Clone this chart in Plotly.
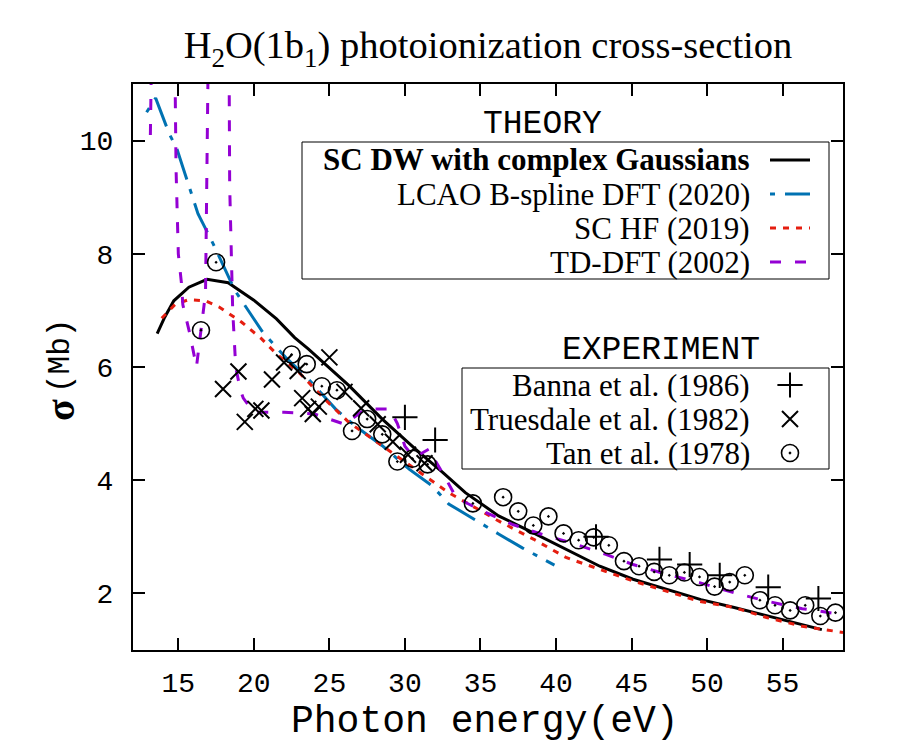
"""H2O(1b1) photoionization cross-section: theory curves vs. experiment.

Rebuilt in Plotly from a gnuplot figure; the legend boxes are drawn by hand
(text right-aligned, sample on the right) the way gnuplot does it.
"""
import plotly.graph_objects as go

# ---------------------------------------------------------------------------
# Data (photon energy in eV, cross-section in Mb)
# ---------------------------------------------------------------------------
scdw_e = [13.6, 14.1, 14.7, 15.7, 16.9, 18.3, 20.0, 21.5, 22.7, 23.6, 26.3, 28.5,
          30.7, 32.5, 34.0, 36.2, 38.5, 40.7, 42.9, 45.1, 47.3, 49.6, 51.8, 54.0, 57.6]
scdw_s = [6.59, 6.88, 7.17, 7.41, 7.55, 7.49, 7.18, 6.85, 6.52, 6.32, 5.67, 5.08,
          4.55, 4.14, 3.78, 3.37, 3.07, 2.78, 2.48, 2.25, 2.07, 1.89, 1.75, 1.60, 1.36]

lcao_e = [12.9, 13.5, 14.4, 14.9, 15.3, 16.3, 17.3, 18.75, 20.6, 22.1, 23.6, 25.4,
          26.7, 28.5, 30.3, 31.8, 32.9, 34.9, 36.2, 37.8, 39.9]
lcao_s = [10.50, 10.75, 10.12, 9.86, 9.53, 8.71, 8.18, 7.35, 6.61, 6.17, 5.79, 5.26,
          4.96, 4.61, 4.19, 3.90, 3.58, 3.25, 3.05, 2.80, 2.50]

schf_e = [13.9, 14.8, 15.7, 16.8, 17.7, 19.2, 20.5, 21.5, 23.0, 24.7, 26.3, 28.5,
          30.7, 32.9, 36.2, 38.5, 40.7, 42.9, 45.1, 47.3, 49.5, 51.8, 54.0, 56.3, 59.0]
schf_s = [6.86, 7.11, 7.19, 7.17, 7.06, 6.79, 6.50, 6.23, 5.90, 5.43, 5.02, 4.61,
          4.19, 3.78, 3.28, 2.96, 2.63, 2.42, 2.22, 2.04, 1.86, 1.75, 1.57, 1.42, 1.31]

# resonance peaks run off the top of the frame
tddft_e = [13.15, 13.25, 14.75, 14.85, 15.0, 15.2, 15.3, 15.75, 16.2, 16.5, 16.8, 17.0,
           18.35, 18.4, 18.6, 18.8, 19.1, 19.3, 20.0, 22.0, 24.0, 26.0, 27.4, 29.0,
           29.5, 30.0, 30.6, 31.6, 32.0, 32.6, 33.4, 35.1, 37.1, 39.1, 41.3, 43.3,
           45.1, 47.3, 49.5, 51.8, 54.0, 56.3, 58.9]
tddft_s = [10.1, 12.0, 12.0, 9.5, 8.0, 7.5, 7.1, 6.6, 6.0, 6.6, 7.3, 12.0,
           12.0, 9.2, 7.0, 6.0, 5.6, 5.45, 5.2, 5.2, 5.17, 4.99, 5.26, 5.26,
           5.0, 4.6, 4.4, 4.55, 4.35, 4.08, 3.69, 3.46, 3.22, 3.04, 2.87, 2.69,
           2.51, 2.34, 2.19, 2.01, 1.86, 1.73, 1.63]

banna_e = [30.0, 32.0, 42.65, 46.85, 48.85, 50.84, 54.05, 57.37]
banna_s = [5.11, 4.71, 3.00, 2.60, 2.51, 2.32, 2.11, 1.91]

trues_e = [17.96, 18.98, 19.4, 20.1, 20.5, 21.2, 22.0, 22.9, 23.2, 23.6, 23.9, 24.3,
           25.0, 26.0, 27.1, 28.2, 29.2, 30.2, 31.3]
trues_s = [5.61, 5.92, 5.03, 5.26, 5.23, 5.78, 6.08, 5.93, 5.45, 5.26, 5.17, 5.30,
           6.17, 5.56, 5.27, 4.99, 4.68, 4.45, 4.30]

tan_e = [16.5, 17.5, 22.5, 23.5, 24.5, 25.5, 26.5, 27.5, 28.5, 29.5, 30.5, 31.5,
         34.5, 36.5, 37.5, 38.5, 39.5, 40.5, 41.5, 42.5, 43.5, 44.5, 45.5, 46.5,
         47.5, 48.5, 49.5, 50.5, 51.5, 52.5, 53.5, 54.5, 55.5, 56.5, 57.5, 58.5]
tan_s = [6.65, 7.85, 6.22, 6.05, 5.66, 5.59, 4.87, 5.08, 4.81, 4.33, 4.38, 4.28,
         3.59, 3.70, 3.45, 3.20, 3.36, 3.06, 2.94, 2.99, 2.85, 2.57, 2.48, 2.38,
         2.32, 2.37, 2.29, 2.12, 2.20, 2.32, 1.88, 1.79, 1.70, 1.79, 1.60, 1.66]

x_ticks = [15, 20, 25, 30, 35, 40, 45, 50, 55]
y_ticks = [2, 4, 6, 8, 10]

theory_labels = ["<b>SC DW with complex Gaussians</b>", "LCAO B-spline DFT (2020)",
                 "SC HF (2019)", "TD-DFT (2002)"]
exp_labels = ["Banna et al. (1986)", "Truesdale et al. (1982)", "Tan et al. (1978)"]

# ---------------------------------------------------------------------------
# Styles
# ---------------------------------------------------------------------------
SERIF = "Liberation Serif"
MONO = "Liberation Mono"

line_styles = [
    dict(color="black", width=3, dash="solid"),
    dict(color="#0072b2", width=3, dash="5px,10px,32px,10px"),
    dict(color="#e51e10", width=3, dash="6px,7px"),
    dict(color="#9400d3", width=3, dash="11px,14px"),
]
marker_styles = [
    dict(symbol="cross-thin-open", size=18, color="black", line=dict(color="black", width=2)),
    dict(symbol="x-thin-open", size=16, color="black", line=dict(color="black", width=2)),
    dict(symbol="circle-open-dot", size=17, color="black", line=dict(color="black", width=1.6)),
]

# The page body adds an 8 px offset, so the frame is set 8 px up/left of where
# it shows in the screenshot. Legend positions below are screenshot pixels.
OFFSET = 8
PLOT_L, PLOT_R, PLOT_T, PLOT_B = 133, 843, 84, 650


def px(xp):
    return (xp - PLOT_L) / (PLOT_R - PLOT_L)


def py(yp):
    return (PLOT_B - yp) / (PLOT_B - PLOT_T)


def label(x, y, text, family, size, **kw):
    fig.add_annotation(x=x, y=y, xref="paper", yref="paper", text=text, showarrow=False,
                       xanchor=kw.pop("xanchor", "center"), yanchor="middle",
                       font=dict(family=family, size=size, color="black"), **kw)


fig = go.Figure()

# ---- theory curves ----
for xs, ys, st in zip([scdw_e, lcao_e, schf_e, tddft_e],
                      [scdw_s, lcao_s, schf_s, tddft_s], line_styles):
    fig.add_trace(go.Scatter(x=xs, y=ys, mode="lines", line=st, hoverinfo="skip"))

# ---- experiment ----
for xs, ys, st in zip([banna_e, trues_e, tan_e], [banna_s, trues_s, tan_s], marker_styles):
    fig.add_trace(go.Scatter(x=xs, y=ys, mode="markers", marker=st, hoverinfo="skip"))

# ---------------------------------------------------------------------------
# Legends (samples drawn on an invisible 0..1 overlay axis)
# ---------------------------------------------------------------------------
theory_rows = [160, 194, 228, 262]
exp_rows = [385, 419, 453]
text_right = 752

for text, st, yy in zip(theory_labels, line_styles, theory_rows):
    fig.add_trace(go.Scatter(x=[px(770), px(810)], y=[py(yy), py(yy)], mode="lines",
                             line=st, xaxis="x2", yaxis="y2", hoverinfo="skip"))
    label(px(text_right), py(yy), text, SERIF, 31, xanchor="right")

for text, st, yy in zip(exp_labels, marker_styles, exp_rows):
    fig.add_trace(go.Scatter(x=[px(790)], y=[py(yy)], mode="markers", marker=st,
                             xaxis="x2", yaxis="y2", hoverinfo="skip"))
    label(px(text_right), py(yy), text, SERIF, 31, xanchor="right")

box_line = dict(color="black", width=1)
fig.add_shape(type="rect", xref="paper", yref="paper", line=box_line,
              x0=px(302), x1=px(829), y0=py(142), y1=py(279))
fig.add_shape(type="rect", xref="paper", yref="paper", line=box_line,
              x0=px(462), x1=px(829), y0=py(368), y1=py(469))
label(px(542), py(125), "THEORY", MONO, 33)
label(px(661), py(350), "EXPERIMENT", MONO, 33)

# ---- axis titles ----
label(px(485), py(721), "Photon energy(eV)", MONO, 38)
# y title: bold sigma in a bigger serif face, then the unit in mono
label(px(60), py(410), "<b>σ</b>", SERIF, 40, textangle=-90)
label(px(60), py(356), "(Mb)", MONO, 31, textangle=-90)

axis_common = dict(
    showline=True, linecolor="black", linewidth=2, mirror="allticks",
    ticks="inside", ticklen=12, tickwidth=1.5, tickcolor="black",
    showgrid=False, zeroline=False,
    tickfont=dict(family=MONO, size=28, color="black"),
)

fig.update_layout(
    width=900, height=743,
    margin=dict(l=PLOT_L - OFFSET, r=900 - PLOT_R + OFFSET,
                t=PLOT_T - OFFSET, b=743 - PLOT_B + OFFSET),
    paper_bgcolor="white", plot_bgcolor="white",
    showlegend=False,
    title=dict(text="H<sub>2</sub>O(1b<sub>1</sub>) photoionization cross-section",
               x=0.5, xref="paper", xanchor="center",
               y=1 - (45 - OFFSET) / 743, yref="container", yanchor="middle",
               font=dict(family=SERIF, size=38.5, color="black")),
    xaxis=dict(range=[12, 59], tickvals=x_ticks, ticklabelstandoff=6, **axis_common),
    yaxis=dict(range=[1, 11], tickvals=y_ticks, ticklabelstandoff=12, **axis_common),
    xaxis2=dict(range=[0, 1], overlaying="x", visible=False),
    yaxis2=dict(range=[0, 1], overlaying="y", visible=False),
)

fig.write_html("out.html")
